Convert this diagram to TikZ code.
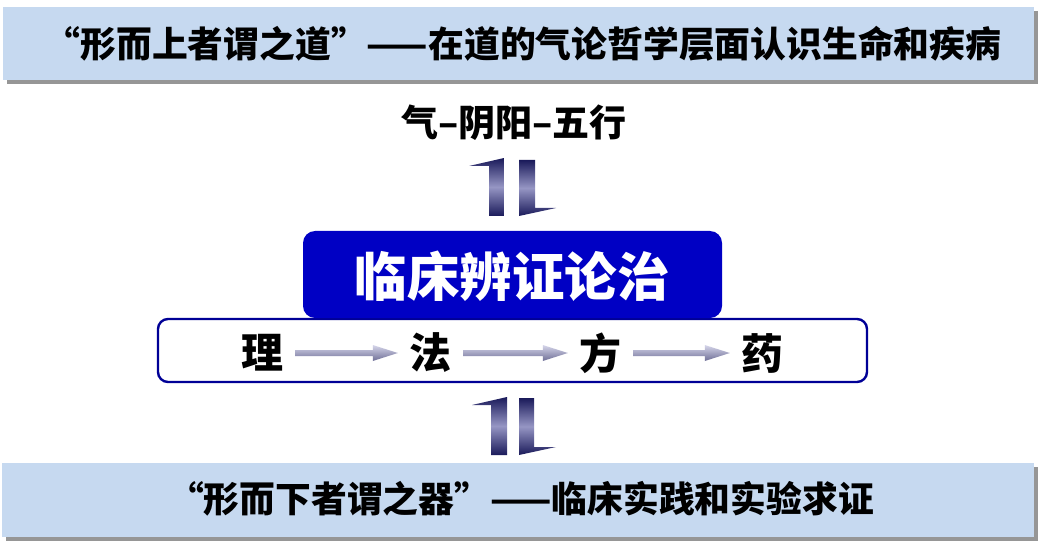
\documentclass[tikz,border=0pt]{standalone}
\usepackage{fontspec}
\newfontfamily\cjk{Noto Sans CJK SC Black}
\usetikzlibrary{calc}
\definecolor{bandblue}{RGB}{198,217,240}
\definecolor{shadowgray}{RGB}{150,150,150}
\definecolor{boxblue}{RGB}{0,0,196}
\definecolor{borderblue}{RGB}{0,0,150}
\definecolor{navy}{RGB}{26,26,90}
\definecolor{lilac}{RGB}{150,150,196}
\definecolor{flowlight}{RGB}{214,214,234}
\definecolor{flowdark}{RGB}{110,110,150}
\tikzset{
  band/.style={fill=bandblue, draw=none},
  bandshadow/.style={fill=shadowgray, draw=none},
  bandtext/.style={font=\cjk\fontsize{35.8}{40}\selectfont, text=black, inner sep=0pt},
  headbox/.style={fill=boxblue, draw=none, rounded corners=12pt},
  stepframe/.style={fill=white, draw=borderblue, line width=2.4pt, rounded corners=10pt},
  steptext/.style={font=\cjk\fontsize{42}{46}\selectfont, text=black, inner sep=0pt},
  halfarrow/.style={top color=navy, bottom color=navy, middle color=lilac, draw=none},
  flowarrow/.style={top color=flowlight, bottom color=flowdark, draw=none}
}
\newcommand\flowconn[2]{%
  \shade[flowarrow] ($(#1.east)+(12,-3)$) -- ($(#2.west)+(-36,-3)$) -- ($(#2.west)+(-36,-8)$)
    -- ($(#2.west)+(-11,0)$) -- ($(#2.west)+(-36,8)$) -- ($(#2.west)+(-36,3)$)
    -- ($(#1.east)+(12,3)$) -- cycle;}
\begin{document}
\begin{tikzpicture}[x=1pt,y=-1pt]
\useasboundingbox (0,0) rectangle (1044,548);
% top band
\fill[bandshadow] (7,11) rectangle (1038,84);
\fill[band] (3,7) rectangle (1034,80);
\node[bandtext] (toptext) at (523,44) {“形而上者谓之道”——在道的气论哲学层面认识生命和疾病};
% bottom band
\fill[bandshadow] (6,467) rectangle (1038,541);
\fill[band] (2,463) rectangle (1034,537);
\node[bandtext] (bottext) at (521,499) {“形而下者谓之器”——临床实践和实验求证};
% qi yinyang wuxing
\node[font=\cjk\fontsize{37}{41}\selectfont, inner sep=0pt] (qi) at (514,123) {气–阴阳–五行};
% upper half arrows
\shade[halfarrow] (469,166) -- (504,158) -- (504,216) -- (489,216) -- (489,166) -- cycle;
\shade[halfarrow] (519,160) -- (535,160) -- (535,208) -- (556,208) -- (519,216) -- cycle;
% lower half arrows
\shade[halfarrow] (472,405) -- (507,397) -- (507,455) -- (491,455) -- (491,405) -- cycle;
\shade[halfarrow] (519,398) -- (534,398) -- (534,447) -- (556,447) -- (519,455) -- cycle;
% white frame
\draw[stepframe] (158,319) rectangle (867,382);
% blue head box
\fill[headbox] (303,231) rectangle (722,318);
\node[font=\cjk\fontsize{52.5}{56}\selectfont, text=white, inner sep=0pt] (head) at (512,276) {临床辨证论治};
% steps
\node[steptext] (li) at (262,353) {理};
\node[steptext] (fa) at (430,353) {法};
\node[steptext] (fang) at (600,353) {方};
\node[steptext] (yao) at (762,353) {药};
\flowconn{li}{fa}
\flowconn{fa}{fang}
\flowconn{fang}{yao}
\end{tikzpicture}
\end{document}
